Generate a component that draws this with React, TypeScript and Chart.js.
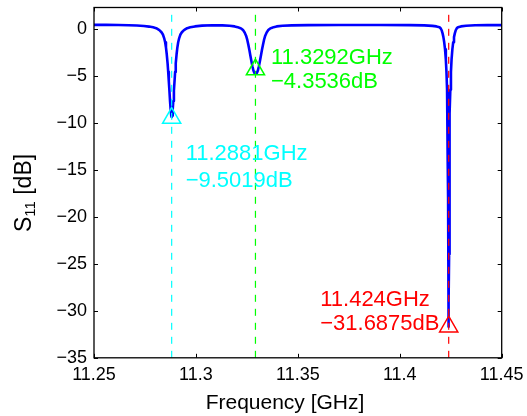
import React, { useEffect, useRef } from "react";
import { Chart, registerables } from "chart.js";
Chart.register(...registerables);

const FONT = "'Liberation Sans', Arial, Helvetica, sans-serif";

// Frequency samples [GHz]
const freqGHz = [
  11.25, 11.256, 11.262, 11.267, 11.271, 11.2745, 11.277, 11.279, 11.2805, 11.2815,
  11.2823, 11.2831, 11.2838, 11.2844, 11.2849, 11.2853, 11.2857, 11.2861, 11.2864, 11.2867,
  11.287, 11.2873, 11.2876, 11.2879, 11.2881, 11.2883, 11.2886, 11.2889, 11.2892, 11.2895,
  11.2898, 11.2901, 11.2905, 11.2909, 11.2913, 11.2918, 11.2924, 11.2931, 11.2939, 11.2947,
  11.2957, 11.2972, 11.2995, 11.303, 11.308, 11.313, 11.3165, 11.319, 11.3205, 11.3215,
  11.3223, 11.3231, 11.3239, 11.3246, 11.3252, 11.3257, 11.3262, 11.3267, 11.3272, 11.3277,
  11.3282, 11.3287, 11.3293, 11.3299, 11.3304, 11.3309, 11.3314, 11.3319, 11.3324, 11.3329,
  11.3334, 11.334, 11.3347, 11.3355, 11.3363, 11.3371, 11.3381, 11.3396, 11.3425, 11.347,
  11.355, 11.37, 11.39, 11.405, 11.412, 11.416, 11.418, 11.4195, 11.4201, 11.4206,
  11.421, 11.4214, 11.4218, 11.4222, 11.4226, 11.4229, 11.4232, 11.4234, 11.4236, 11.4237,
  11.4238, 11.4239, 11.424, 11.4241, 11.4242, 11.4243, 11.4244, 11.4246, 11.4248, 11.4251,
  11.4254, 11.4258, 11.4262, 11.4266, 11.427, 11.4274, 11.4279, 11.4285, 11.43, 11.4325,
  11.437, 11.443, 11.45,
];

// S11 [dB]
const s11dB = [
  0.4, 0.4, 0.39, 0.37, 0.34, 0.29, 0.22, 0.14, 0.05, -0.08,
  -0.2, -0.38, -0.62, -1.0, -1.45, -2.0, -2.75, -3.7, -4.6, -5.6,
  -6.6, -7.7, -8.6, -9.25, -9.4, -9.25, -8.6, -7.7, -6.6, -5.6,
  -4.6, -3.7, -2.75, -2.0, -1.45, -1.0, -0.62, -0.38, -0.2, -0.08,
  0.05, 0.14, 0.24, 0.32, 0.36, 0.35, 0.31, 0.24, 0.16, 0.08,
  0.0, -0.15, -0.4, -0.75, -1.2, -1.7, -2.25, -2.85, -3.45, -4.0,
  -4.45, -4.7, -4.8, -4.7, -4.45, -4.0, -3.45, -2.85, -2.25, -1.7,
  -1.2, -0.75, -0.4, -0.15, 0.0, 0.08, 0.16, 0.24, 0.31, 0.35,
  0.38, 0.39, 0.39, 0.38, 0.35, 0.3, 0.24, 0.15, 0.02, -0.2,
  -0.5, -0.9, -1.45, -2.2, -3.3, -4.6, -6.5, -9.0, -14.0, -18.0,
  -24.0, -29.0, -31.7, -29.0, -24.0, -18.0, -14.0, -9.0, -6.5, -4.6,
  -3.3, -2.2, -1.45, -0.9, -0.5, -0.2, 0.02, 0.15, 0.24, 0.31,
  0.36, 0.38, 0.38,
];

// Markers
const markerFreq = [11.2881, 11.3292, 11.424];
const markerDb = [-9.5019, -4.3536, -31.6875];
const markerColors = ["#00ffff", "#00ff00", "#ff0000"];
const markerLine1 = ["11.2881GHz", "11.3292GHz", "11.424GHz"];
const markerLine2 = ["\u22129.5019dB", "\u22124.3536dB", "\u221231.6875dB"];

// Axes
const xRange = [11.25, 11.45];
const yRange = [-35, 2.25];
const xTicks = [11.25, 11.3, 11.35, 11.4, 11.45];
const xTickLabels = ["11.25", "11.3", "11.35", "11.4", "11.45"];
const yTicks = [-35, -30, -25, -20, -15, -10, -5, 0];
const yTickLabels = ["\u221235", "\u221230", "\u221225", "\u221220", "\u221215", "\u221210", "\u22125", "0"];
const xTitle = "Frequency [GHz]";

// layout (pixels)
const AREA = { left: 94, top: 7.5, right: 501.7, bottom: 357.8 };
const W = 527;
const H = 416;

// text layout offsets (pixels, relative to marker point)
const labelOffsets = [
  { dx: 14, dy1: 42.3, dy2: 69 },
  { dx: 15.5, dy1: -5.7, dy2: 18.3 },
  { dx: -128.5, dy1: -20.9, dy2: 3.1 },
];

const fixedAreaPlugin = {
  id: "fixedArea",
  afterLayout(chart: any) {
    const { left, top, right, bottom } = AREA;
    const x = chart.scales.x;
    const y = chart.scales.y;
    y.left = 0;
    y.right = left;
    y.width = left;
    y.top = top;
    y.bottom = bottom;
    y.height = bottom - top;
    y.configure();
    x.left = left;
    x.right = right;
    x.width = right - left;
    x.top = bottom;
    x.bottom = H;
    x.height = H - bottom;
    x.configure();
    chart.chartArea = { left, top, right, bottom, width: right - left, height: bottom - top };
  },
};

const framePlugin = {
  id: "matlabFrame",
  afterDraw(chart: any) {
    const { ctx, chartArea, scales } = chart;
    const { left, right, top, bottom } = chartArea;
    const x = scales.x;
    const y = scales.y;
    ctx.save();
    // annotations
    ctx.font = `22px ${FONT}`;
    ctx.textAlign = "left";
    ctx.textBaseline = "alphabetic";
    markerFreq.forEach((f, i) => {
      const px = x.getPixelForValue(f);
      const py = y.getPixelForValue(markerDb[i]);
      const o = labelOffsets[i];
      ctx.fillStyle = markerColors[i];
      ctx.fillText(markerLine1[i], px + o.dx, py + o.dy1);
      ctx.fillText(markerLine2[i], px + o.dx, py + o.dy2);
    });
    // box
    ctx.strokeStyle = "#000";
    ctx.lineWidth = 1.3;
    ctx.strokeRect(left, top, right - left, bottom - top);
    ctx.lineWidth = 1;
    ctx.beginPath();
    xTicks.forEach((v) => {
      const px = Math.round(x.getPixelForValue(v)) + 0.5;
      ctx.moveTo(px, bottom);
      ctx.lineTo(px, bottom - 4);
      ctx.moveTo(px, top);
      ctx.lineTo(px, top + 4);
    });
    yTicks.forEach((v) => {
      const py = Math.round(y.getPixelForValue(v)) + 0.5;
      ctx.moveTo(left, py);
      ctx.lineTo(left + 4, py);
      ctx.moveTo(right, py);
      ctx.lineTo(right - 4, py);
    });
    ctx.stroke();
    // x title
    ctx.fillStyle = "#000";
    ctx.font = `21px ${FONT}`;
    ctx.textAlign = "center";
    ctx.fillText(xTitle, 285, 409);
    // y title, rotated: S_11 [dB]
    ctx.translate(31, 193);
    ctx.rotate(-Math.PI / 2);
    const big = `23px ${FONT}`;
    const small = `15px ${FONT}`;
    ctx.font = big;
    const wS = ctx.measureText("S").width;
    const wRest = ctx.measureText(" [dB]").width;
    ctx.font = small;
    const wSub = ctx.measureText("11").width;
    const total = wS + wSub + wRest;
    let cx = -total / 2;
    ctx.textAlign = "left";
    ctx.font = big;
    ctx.fillText("S", cx, 0);
    cx += wS;
    ctx.font = small;
    ctx.fillText("11", cx, 4);
    cx += wSub;
    ctx.font = big;
    ctx.fillText(" [dB]", cx, 0);
    ctx.restore();
  },
};

export default function App() {
  const ref = useRef<HTMLCanvasElement>(null);
  useEffect(() => {
    const canvas = ref.current!;
    const curve = freqGHz.map((f, i) => ({ x: f, y: s11dB[i] }));
    const chart = new Chart(canvas, {
      type: "line",
      data: {
        datasets: [
          {
            label: "S11",
            data: curve,
            borderColor: "#0000ff",
            borderWidth: 2.6,
            pointRadius: 0,
            tension: 0,
            borderJoinStyle: "round",
            borderCapStyle: "round",
            order: 3,
          } as any,
          ...markerFreq.map((f, i) => ({
            label: "cursor" + i,
            data: [
              { x: f, y: yRange[0] },
              { x: f, y: yRange[1] },
            ],
            borderColor: markerColors[i],
            borderWidth: 1.2,
            borderDash: [7, 7],
            pointRadius: 0,
            order: 2,
          })),
          {
            label: "markers",
            data: markerFreq.map((f, i) => ({ x: f, y: markerDb[i] })),
            showLine: false,
            pointStyle: "triangle",
            pointRadius: 10.5,
            pointBorderColor: markerColors,
            pointBackgroundColor: "rgba(0,0,0,0)",
            pointBorderWidth: 1.5,
            order: 1,
          } as any,
        ],
      },
      options: {
        responsive: false,
        animation: false,
        devicePixelRatio: 1,
        layout: { padding: { top: 7.5, right: 25.3, left: 0, bottom: 0 } },
        plugins: { legend: { display: false }, tooltip: { enabled: false } },
        scales: {
          x: {
            type: "linear",
            min: xRange[0],
            max: xRange[1],
            bounds: "data",
            grid: { display: false, drawTicks: false },
            border: { display: false },
            afterBuildTicks: (s: any) => {
              s.ticks = xTicks.map((v) => ({ value: v }));
            },
            afterFit: (s: any) => {
              s.height = H - AREA.bottom;
            },
            ticks: {
              font: { family: FONT, size: 18 },
              color: "#000",
              padding: 6,
              maxRotation: 0,
              autoSkip: false,
              callback: (_v: any, i: number) => xTickLabels[i],
            },
          },
          y: {
            type: "linear",
            min: yRange[0],
            max: yRange[1],
            bounds: "data",
            grid: { display: false, drawTicks: false },
            border: { display: false },
            afterBuildTicks: (s: any) => {
              s.ticks = yTicks.map((v) => ({ value: v }));
            },
            afterFit: (s: any) => {
              s.width = AREA.left;
            },
            ticks: {
              font: { family: FONT, size: 18 },
              color: "#000",
              padding: 7,
              autoSkip: false,
              callback: (_v: any, i: number) => yTickLabels[i],
            },
          },
        },
      },
      plugins: [fixedAreaPlugin, framePlugin],
    });
    return () => chart.destroy();
  }, []);
  return (
    <div style={{ position: "absolute", left: 0, top: 0, width: W, height: H, background: "#fff" }}>
      <canvas ref={ref} width={W} height={H} style={{ display: "block", width: W, height: H }} />
    </div>
  );
}
